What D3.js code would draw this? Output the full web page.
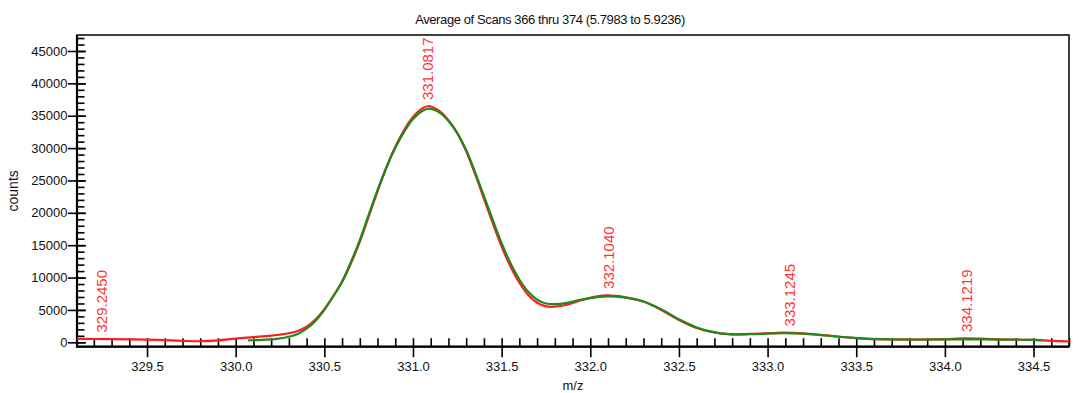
<!DOCTYPE html>
<html>
<head>
  <meta charset="utf-8">
  <title>Average of Scans</title>
  <script src="https://d3js.org/d3.v7.min.js"></script>
  <style>
    body { margin: 0; background: #fff; }
    svg { display: block; font-family: "Liberation Sans", Arial, sans-serif; }
    .axis text { font-size: 13px; fill: #111; }
    .axis line { stroke: #000; stroke-width: 1.6px; }
    .axis path { display: none; }
  </style>
</head>
<body>
  <svg width="1080" height="393"></svg>
  <script>
    // red profile (m/z, counts)
    const redSeries = [
      [329.105, 520], [329.2, 510], [329.3, 490], [329.4, 460], [329.5, 415], [329.6, 330],
      [329.7, 220], [329.8, 160], [329.9, 300], [330.0, 580], [330.1, 800], [330.2, 1030],
      [330.3, 1400], [330.35, 1750], [330.4, 2400], [330.45, 3500], [330.5, 5100], [330.55, 7100],
      [330.6, 9300], [330.65, 12200], [330.7, 15500], [330.75, 19400], [330.8, 23300], [330.85, 27000],
      [330.9, 30200], [330.95, 32800], [331.0, 34800], [331.05, 36100], [331.09, 36500], [331.15, 35700],
      [331.2, 34300], [331.25, 32300], [331.3, 29500], [331.35, 26000], [331.4, 22200], [331.45, 18400],
      [331.5, 14800], [331.55, 11700], [331.6, 9200], [331.65, 7300], [331.7, 6100], [331.75, 5550],
      [331.8, 5500], [331.87, 5800], [331.95, 6500], [332.03, 7050], [332.1, 7250], [332.2, 6950],
      [332.3, 6300], [332.4, 5000], [332.5, 3450], [332.6, 2200], [332.69, 1550], [332.78, 1250],
      [332.9, 1300], [333.0, 1400], [333.09, 1480], [333.2, 1380], [333.3, 1150], [333.38, 930],
      [333.47, 700], [333.56, 520], [333.7, 430], [333.85, 420], [334.0, 480], [334.1, 600],
      [334.2, 560], [334.3, 470], [334.4, 400], [334.5, 380], [334.6, 220], [334.7, 150]
    ];

    // green profile (m/z, counts)
    const greenSeries = [
      [330.07, 300], [330.15, 380], [330.23, 520], [330.3, 850], [330.35, 1300], [330.4, 2100],
      [330.45, 3300], [330.5, 5000], [330.55, 7100], [330.6, 9400], [330.65, 12400], [330.7, 15800],
      [330.75, 19700], [330.8, 23500], [330.85, 27000], [330.9, 30000], [330.95, 32500], [331.0, 34500],
      [331.05, 35700], [331.09, 36100], [331.15, 35500], [331.2, 34200], [331.25, 32300], [331.3, 29700],
      [331.35, 26300], [331.4, 22600], [331.45, 18900], [331.5, 15300], [331.55, 12200], [331.6, 9700],
      [331.65, 7800], [331.7, 6600], [331.75, 6000], [331.8, 5900], [331.87, 6100], [331.95, 6600],
      [332.03, 6950], [332.1, 7100], [332.2, 6900], [332.3, 6300], [332.4, 5100], [332.5, 3550],
      [332.6, 2300], [332.69, 1600], [332.78, 1250], [332.9, 1250], [333.0, 1330], [333.09, 1400],
      [333.2, 1330], [333.3, 1120], [333.38, 920], [333.47, 720], [333.56, 560], [333.7, 460],
      [333.85, 430], [334.0, 440], [334.1, 460], [334.2, 450], [334.3, 420], [334.4, 400],
      [334.5, 380], [334.55, 340]
    ];

    const peakLabels = [329.2450, 331.0817, 332.1040, 333.1245, 334.1219];

    const xMajorTicks = [329.5, 330.0, 330.5, 331.0, 331.5, 332.0, 332.5, 333.0, 333.5, 334.0, 334.5];
    const xMinorTicks = d3.range(3292, 3348).map(d => d / 10);
    const yMajorTicks = d3.range(0, 45001, 5000);
    const yMinorTicks = d3.range(0, 47001, 1000);

    const title = "Average of Scans 366 thru 374 (5.7983 to 5.9236)";

    const plotLeft = 77, plotRight = 1069, plotTop = 35, plotBottom = 346.7;

    const svg = d3.select("svg");

    const x = d3.scaleLinear().domain([329.105, 334.70]).range([plotLeft, plotRight]);
    const y = d3.scaleLinear().domain([-680, 47470]).range([plotBottom, plotTop]);

    // x axis: outside part with labels, inside part for all ticks
    svg.append("g")
      .attr("class", "axis")
      .attr("transform", `translate(0,${plotBottom})`)
      .call(d3.axisBottom(x).tickValues(xMajorTicks).tickSize(10.5).tickPadding(5)
        .tickFormat(d3.format(".1f")));

    svg.append("g")
      .attr("class", "axis")
      .attr("transform", `translate(0,${plotBottom})`)
      .call(d3.axisTop(x).tickValues(xMinorTicks).tickSize(8.5).tickFormat(""));

    // y axis
    svg.append("g")
      .attr("class", "axis")
      .attr("transform", `translate(${plotLeft},0)`)
      .call(d3.axisLeft(y).tickValues(yMajorTicks).tickSize(9).tickPadding(0.5)
        .tickFormat(d3.format("d")));

    svg.append("g")
      .attr("class", "axis")
      .attr("transform", `translate(${plotLeft},0)`)
      .call(d3.axisRight(y).tickValues(yMinorTicks).tickSize(7.5).tickFormat(""));

    svg.append("g")
      .attr("class", "axis")
      .attr("transform", `translate(${plotLeft},0)`)
      .call(d3.axisRight(y).tickValues(yMajorTicks).tickSize(9).tickFormat(""));

    // frame
    svg.append("rect")
      .attr("x", plotLeft).attr("y", plotTop)
      .attr("width", plotRight - plotLeft).attr("height", plotBottom - plotTop)
      .attr("fill", "none").attr("stroke", "#111").attr("stroke-width", 1.6);

    svg.append("path")
      .attr("d", `M${plotLeft},${plotTop}V${plotBottom}H${plotRight}`)
      .attr("fill", "none").attr("stroke", "#000").attr("stroke-width", 2.2);

    const line = d3.line()
      .x(d => x(d[0]))
      .y(d => y(d[1]))
      .curve(d3.curveCatmullRom.alpha(0.5));

    svg.append("path")
      .datum(redSeries)
      .attr("d", line)
      .attr("fill", "none")
      .attr("stroke", "#ff1c1c")
      .attr("stroke-width", 2.2);

    svg.append("path")
      .datum(greenSeries)
      .attr("d", line)
      .attr("fill", "none")
      .attr("stroke", "#1c8a1c")
      .attr("stroke-width", 2.2);

    // peak labels above the red profile
    const redX = redSeries.map(d => d[0]);
    const redY = redSeries.map(d => d[1]);
    function redAt(v) {
      const i = Math.max(1, d3.bisectLeft(redX, v));
      const t = (v - redX[i - 1]) / (redX[i] - redX[i - 1]);
      return redY[i - 1] + t * (redY[i] - redY[i - 1]);
    }

    svg.append("g")
      .selectAll("text")
      .data(peakLabels)
      .join("text")
      .attr("transform", d => `translate(${x(d)},${y(redAt(d)) - 6.5}) rotate(-90)`)
      .attr("dy", "0.36em")
      .attr("font-size", 15)
      .attr("fill", "#ff3535")
      .text(d => d.toFixed(4));

    svg.append("text")
      .attr("x", 550).attr("y", 24)
      .attr("text-anchor", "middle")
      .attr("font-size", 13)
      .attr("letter-spacing", -0.4)
      .attr("fill", "#111")
      .text(title);

    svg.append("text")
      .attr("x", (plotLeft + plotRight) / 2).attr("y", 390)
      .attr("text-anchor", "middle")
      .attr("font-size", 13)
      .attr("fill", "#111")
      .text("m/z");

    svg.append("text")
      .attr("transform", `translate(18,${(plotTop + plotBottom) / 2}) rotate(-90)`)
      .attr("text-anchor", "middle")
      .attr("font-size", 14)
      .attr("fill", "#111")
      .text("counts");
  </script>
</body>
</html>
